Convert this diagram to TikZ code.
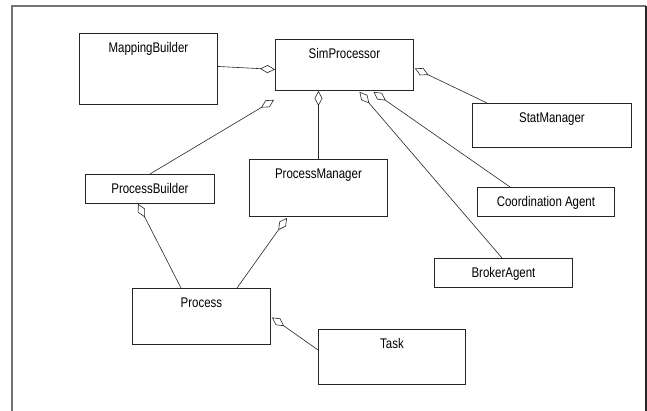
\documentclass[tikz,border=0pt]{standalone}
\usepackage{fontspec}
\newfontfamily\umlfont[FakeStretch=0.82]{Liberation Sans}
\usetikzlibrary{arrows.meta,calc}

\tikzset{
  cls/.style={draw=black!85, line width=0.9pt, rectangle, inner sep=0pt, anchor=north west},
  cname/.style={anchor=base, yshift=-19.5pt, inner sep=0pt, font=\umlfont\fontsize{14}{16}\selectfont},
  agg/.style={draw=black!85, line width=0.6pt, -{Diamond[open, length=15pt, width=8pt]}},
  frame/.style={draw=black!55, line width=1.3pt}
}

\begin{document}
\begin{tikzpicture}[x=1pt, y=-1pt]
    \useasboundingbox (0,0) rectangle (647,411);
    \draw[frame] (12,411) -- (12,6) -- (646,6);
    \draw[frame, draw=black!85] (646,6) -- (646,411);

    \node[cls, minimum width=138, minimum height=71, label={[cname]above:MappingBuilder}]     (mb) at (79,33)  {};
    \node[cls, minimum width=138, minimum height=51, label={[cname]above:SimProcessor}]       (sp) at (275,39) {};
    \node[cls, minimum width=159, minimum height=44, label={[cname]above:StatManager}]        (sm) at (472,103) {};
    \node[cls, minimum width=137, minimum height=29, label={[cname]above:Coordination Agent}] (ca) at (477,187) {};
    \node[cls, minimum width=138, minimum height=29, label={[cname]above:BrokerAgent}]        (ba) at (434,258) {};
    \node[cls, minimum width=129, minimum height=29, label={[cname]above:ProcessBuilder}]     (pb) at (85,174) {};
    \node[cls, minimum width=138, minimum height=57, label={[cname]above:ProcessManager}]     (pm) at (249,159) {};
    \node[cls, minimum width=138, minimum height=56, label={[cname]above:Process}]            (pr) at (132,288) {};
    \node[cls, minimum width=147, minimum height=55, label={[cname]above:Task}]               (tk) at (318,329) {};

    \draw[agg] ($(mb.east)+(0,-2.5)$) -- ($(sp.west)+(0,4.5)$);
    \draw[agg] (pb.north) -- ($(sp.south west)+(-1,9)$);
    \draw[agg] (pm.north) -- (pm.north |- sp.south);
    \draw[agg] ($(ba.north west)+(68,0)$) -- ($(sp.south)+(15,1)$);
    \draw[agg] ($(ca.north west)+(33,0)$) -- ($(sp.south)+(29,1)$);
    \draw[agg] ($(sm.north west)+(15,0)$) -- ($(sp.east)+(1,3.5)$);
    \draw[agg] ($(pr.north west)+(49,0)$) -- ($(pb.south west)+(53,0)$);
    \draw[agg] ($(pr.north west)+(105,0)$) -- ($(pm.south west)+(38,1)$);
    \draw[agg] ($(tk.west)+(0,-7)$) -- ($(pr.east)+(1,1)$);
\end{tikzpicture}
\end{document}
